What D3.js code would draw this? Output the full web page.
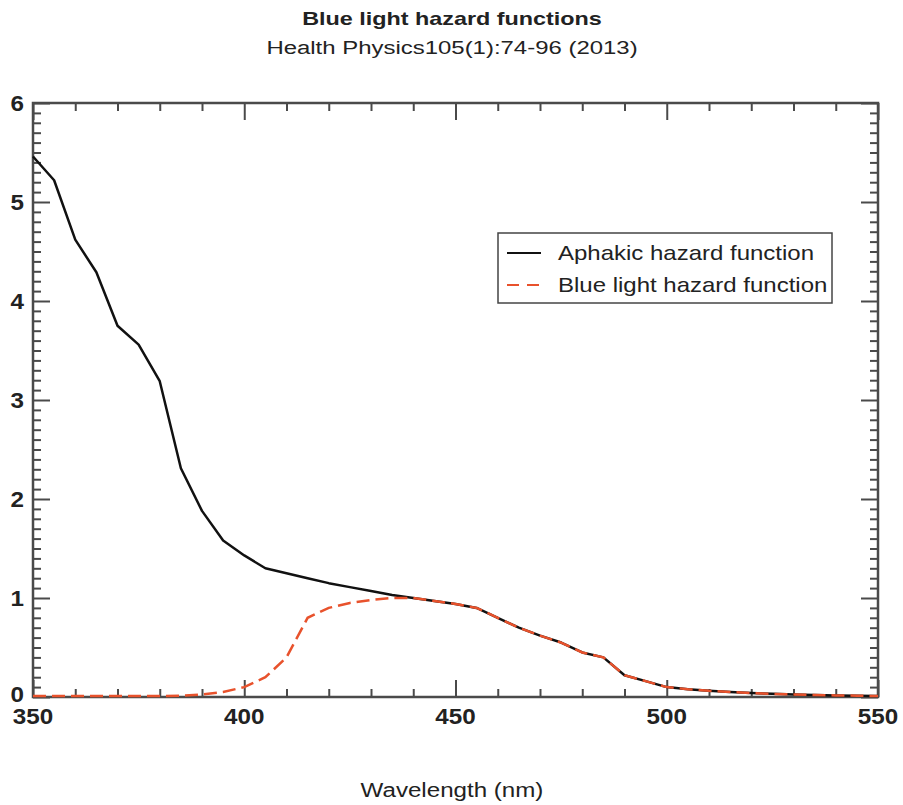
<!DOCTYPE html>
<html lang="en">
<head>
<meta charset="UTF-8">
<title>Blue light hazard functions</title>
<script src="https://cdn.jsdelivr.net/npm/d3@7"></script>
<style>
  body { margin: 0; background: #fff; }
  text { font-family: "Liberation Sans", Arial, sans-serif; fill: #222; }
</style>
</head>
<body>
<div id="chart"></div>
<script>
// wavelengths (nm), 5 nm steps
const wavelengths = [350, 355, 360, 365, 370, 375, 380, 385, 390, 395, 400, 405, 410, 415, 420, 425, 430, 435, 440, 445,
  450, 455, 460, 465, 470, 475, 480, 485, 490, 495, 500, 505, 510, 515, 520, 525, 530, 535, 540, 545, 550];
const aphakic = [5.46, 5.22, 4.62, 4.29, 3.75, 3.56, 3.19, 2.31, 1.88, 1.58, 1.43, 1.30, 1.25, 1.20, 1.15, 1.11, 1.07, 1.03, 1.00, 0.97,
  0.94, 0.90, 0.80, 0.70, 0.62, 0.55, 0.45, 0.40, 0.22, 0.16, 0.10, 0.079, 0.063, 0.050, 0.040, 0.032, 0.025, 0.020, 0.016, 0.013, 0.010];
const blueLight = [0.01, 0.01, 0.01, 0.01, 0.01, 0.01, 0.01, 0.013, 0.025, 0.05, 0.10, 0.20, 0.40, 0.80, 0.90, 0.95, 0.98, 1.00, 1.00, 0.97,
  0.94, 0.90, 0.80, 0.70, 0.62, 0.55, 0.45, 0.40, 0.22, 0.16, 0.10, 0.079, 0.063, 0.050, 0.040, 0.032, 0.025, 0.020, 0.016, 0.013, 0.010];
const xTicks = [350, 400, 450, 500, 550];
const yTicks = [0, 1, 2, 3, 4, 5, 6];
const seriesNames = ["Aphakic hazard function", "Blue light hazard function"];

const width = 903, height = 805;
const margin = { left: 33, right: 25, top: 103, bottom: 108 };

const svg = d3.select("#chart").append("svg")
  .attr("width", width)
  .attr("height", height);

const x = d3.scaleLinear().domain([350, 550]).range([margin.left, width - margin.right]);
const y = d3.scaleLinear().domain([0, 6]).range([height - margin.bottom, margin.top]);

// the original image is a bit stretched sideways, so text gets a small x-scale
function label(parent, tx, ty, str, size, opts = {}) {
  return parent.append("text")
    .attr("transform", `translate(${tx},${ty}) scale(${opts.sx || 1.22},1)`)
    .attr("text-anchor", opts.anchor || "start")
    .attr("dy", opts.dy || null)
    .style("font-size", size + "px")
    .style("font-weight", opts.bold ? "bold" : null)
    .text(str);
}

// titles
label(svg, 452, 25, "Blue light hazard functions", 19, { anchor: "middle", bold: true, sx: 1.23 });
label(svg, 452, 54, "Health Physics105(1):74-96 (2013)", 19, { anchor: "middle", sx: 1.26 });
label(svg, 452, 797, "Wavelength (nm)", 21, { anchor: "middle", sx: 1.15 });

// ticks on all four sides, pointing inward
const minorX = d3.range(350, 551, 10);
const minorY = d3.range(0, 6.01, 0.1).map(v => +v.toFixed(1));
const isMajorX = v => v % 50 === 0;
const isMajorY = v => Math.abs(v - Math.round(v)) < 1e-6;

const axisCol = "#4a4a4a";
const tickMajor = 17, tickMinor = 8;

const bottomAxis = d3.axisBottom(x).tickValues(minorX).tickSize(-tickMinor).tickFormat("");
const topAxis = d3.axisTop(x).tickValues(minorX).tickSize(-tickMinor).tickFormat("");
const leftAxis = d3.axisLeft(y).tickValues(minorY).tickSize(-tickMinor).tickFormat("");
const rightAxis = d3.axisRight(y).tickValues(minorY).tickSize(-tickMinor).tickFormat("");

function styleAxis(g, majorFn, dir) {
  g.select(".domain").remove();
  g.selectAll(".tick line").attr("stroke", axisCol).attr("stroke-width", 2)
    .each(function (d) {
      if (majorFn(d)) d3.select(this).attr(dir, d3.select(this).attr(dir) * tickMajor / tickMinor);
    });
}

svg.append("g").attr("transform", `translate(0,${y(0)})`).call(bottomAxis).call(g => styleAxis(g, isMajorX, "y2"));
svg.append("g").attr("transform", `translate(0,${y(6)})`).call(topAxis).call(g => styleAxis(g, isMajorX, "y2"));
svg.append("g").attr("transform", `translate(${x(350)},0)`).call(leftAxis).call(g => styleAxis(g, isMajorY, "x2"));
svg.append("g").attr("transform", `translate(${x(550)},0)`).call(rightAxis).call(g => styleAxis(g, isMajorY, "x2"));

// frame
svg.append("rect")
  .attr("x", x(350)).attr("y", y(6))
  .attr("width", x(550) - x(350)).attr("height", y(0) - y(6))
  .attr("fill", "none").attr("stroke", axisCol).attr("stroke-width", 2.5);

// tick labels
const xLab = svg.append("g");
xTicks.forEach(d => label(xLab, x(d), y(0) + 27, d, 22, { anchor: "middle", bold: true, sx: 1.1 }));
const yLab = svg.append("g");
yTicks.forEach(d => label(yLab, x(350) - 9, d === 0 ? y(0) + 5 : y(d) + 8, d, 22, { anchor: "end", bold: true, sx: 1.1 }));

// lines
const pts = vals => wavelengths.map((w, i) => [w, vals[i]]);
const line = d3.line().x(d => x(d[0])).y(d => y(d[1]));

svg.append("path").datum(pts(aphakic))
  .attr("d", line).attr("fill", "none")
  .attr("stroke", "#111").attr("stroke-width", 2.5).attr("stroke-linejoin", "round");
svg.append("path").datum(pts(blueLight))
  .attr("d", line).attr("fill", "none")
  .attr("stroke", "#e8522c").attr("stroke-width", 2.5).attr("stroke-dasharray", "13,6");

// legend
const lg = svg.append("g").attr("transform", "translate(498,233)");
lg.append("rect").attr("width", 334).attr("height", 70)
  .attr("fill", "#fff").attr("stroke", "#444").attr("stroke-width", 1.5);
const legendStyles = [{ color: "#111", dash: null }, { color: "#e8522c", dash: "12,8" }];
seriesNames.forEach((name, i) => {
  const yy = 20 + i * 32;
  lg.append("line").attr("x1", 9).attr("x2", 43).attr("y1", yy).attr("y2", yy)
    .attr("stroke", legendStyles[i].color).attr("stroke-width", 2)
    .attr("stroke-dasharray", legendStyles[i].dash);
  label(lg, 60, yy, name, 20, { dy: "0.35em", sx: 1.2 });
});
</script>
</body>
</html>
